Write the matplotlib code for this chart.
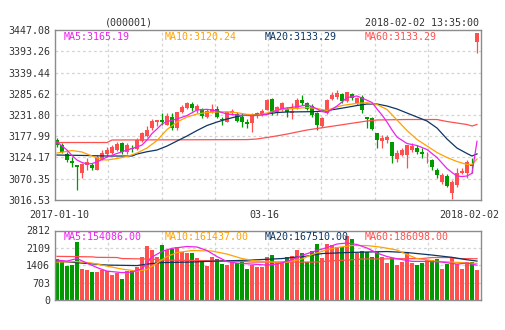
import matplotlib
matplotlib.use("Agg")
import matplotlib.pyplot as plt
import numpy as np

# ---------------- data ----------------
title_code = "(000001)"
timestamp = "2018-02-02 13:35:00"
x_labels = ["2017-01-10", "03-16", "2018-02-02"]
x_label_pos = [0.4, 41.5, 82.5]

price_ticks = [3016.53, 3070.35, 3124.17, 3177.99, 3231.80, 3285.62, 3339.44, 3393.26, 3447.08]
vol_ticks = [0, 703, 1406, 2109, 2812]

opens = [3168, 3156, 3132, 3115, 3105, 3086, 3105, 3105, 3092, 3118,
         3133, 3135, 3143, 3160, 3139, 3149, 3145, 3165, 3178, 3198,
         3214, 3218, 3206, 3228, 3198, 3240, 3249, 3260, 3244, 3246,
         3226, 3240, 3248, 3222, 3215, 3236, 3234, 3227, 3214, 3211,
         3229, 3232, 3244, 3272, 3236, 3246, 3246, 3238, 3249, 3270,
         3263, 3254, 3236, 3204, 3236, 3272, 3278, 3285, 3268, 3285,
         3261, 3278, 3228, 3224, 3185, 3165, 3168, 3164, 3120, 3130,
         3130, 3143, 3148, 3138, 3127, 3117, 3092, 3063, 3078, 3033,
         3054, 3084, 3084, 3107, 3417]
highs = [3173, 3162, 3139, 3126, 3106, 3111, 3122, 3111, 3131, 3143,
         3152, 3155, 3164, 3164, 3160, 3156, 3173, 3188, 3204, 3221,
         3219, 3236, 3236, 3236, 3240, 3257, 3264, 3265, 3259, 3249,
         3247, 3259, 3254, 3226, 3243, 3247, 3240, 3236, 3222, 3236,
         3240, 3247, 3272, 3274, 3254, 3264, 3251, 3263, 3274, 3282,
         3265, 3259, 3240, 3226, 3272, 3290, 3295, 3287, 3291, 3287,
         3278, 3282, 3228, 3226, 3187, 3181, 3181, 3164, 3143, 3148,
         3156, 3160, 3156, 3148, 3139, 3120, 3097, 3084, 3082, 3067,
         3097, 3097, 3118, 3122, 3440]
lows = [3151, 3135, 3114, 3101, 3042, 3071, 3092, 3092, 3092, 3118,
        3126, 3133, 3141, 3134, 3134, 3139, 3143, 3163, 3177, 3195,
        3204, 3206, 3206, 3194, 3195, 3238, 3247, 3243, 3237, 3223,
        3223, 3236, 3224, 3206, 3213, 3232, 3213, 3202, 3200, 3189,
        3225, 3229, 3244, 3232, 3232, 3243, 3227, 3221, 3246, 3257,
        3244, 3227, 3195, 3202, 3234, 3270, 3272, 3261, 3264, 3270,
        3257, 3236, 3198, 3194, 3148, 3148, 3160, 3110, 3114, 3128,
        3097, 3138, 3134, 3122, 3110, 3092, 3073, 3058, 3050, 3018,
        3050, 3082, 3071, 3084, 3388]
closes = [3156, 3139, 3117, 3111, 3101, 3108, 3113, 3098, 3126, 3136,
          3143, 3150, 3158, 3139, 3156, 3145, 3168, 3185, 3195, 3217,
          3219, 3213, 3229, 3198, 3240, 3253, 3261, 3249, 3254, 3229,
          3243, 3246, 3227, 3218, 3240, 3243, 3217, 3215, 3208, 3232,
          3236, 3243, 3270, 3240, 3251, 3261, 3240, 3242, 3270, 3263,
          3246, 3232, 3206, 3224, 3270, 3282, 3287, 3268, 3291, 3274,
          3276, 3244, 3221, 3196, 3168, 3173, 3175, 3128, 3136, 3143,
          3156, 3153, 3139, 3134, 3129, 3099, 3079, 3080, 3052, 3063,
          3084, 3090, 3113, 3102, 3439]
volumes = [1656, 1587, 1384, 1413, 2359, 1250, 1210, 1141, 1141, 1210,
           1169, 1007, 1076, 844, 1169, 1169, 1319, 1750, 2184, 2022,
           1750, 2225, 2022, 2062, 2131, 1953, 1912, 1912, 1685, 1616,
           1372, 1750, 1656, 1453, 1413, 1547, 1482, 1547, 1250, 1400,
           1344, 1344, 1750, 1819, 1547, 1547, 1750, 1778, 2022, 1888,
           1547, 1981, 2265, 1685, 2265, 2225, 2131, 2131, 2602, 2468,
           1888, 1981, 1953, 1750, 1929, 1750, 1506, 1685, 1413, 1547,
           1929, 1506, 1413, 1506, 1616, 1616, 1656, 1250, 1453, 1685,
           1453, 1250, 1547, 1547, 1210]

ma5_idx = [0, 1, 2, 3, 4, 5, 6, 7, 8, 9, 10, 12, 14, 16, 17, 18, 19, 20, 21, 22, 24, 26, 28, 30,
           32, 34, 36, 38, 40, 42, 43, 45, 48, 50, 51, 53, 54, 56, 57, 58, 60, 61, 63, 64, 65,
           66, 67, 68, 70, 72, 74, 76, 77, 78, 79, 80, 81, 82, 83, 84]
ma5_val = [3163.4, 3153.2, 3143.1, 3129.2, 3117.8, 3111.5, 3107.7, 3108.9, 3112.7, 3119.0,
           3125.4, 3134.3, 3143.1, 3150.7, 3155.8, 3168.5, 3184.9, 3196.3, 3209.0, 3215.3,
           3221.6, 3230.5, 3244.4, 3246.2, 3241.9, 3234.3, 3231.8, 3230.5, 3230.5, 3233.1,
           3239.4, 3248.2, 3252.8, 3257.1, 3253.3, 3240.6, 3238.1, 3254.6, 3264.7, 3276.1,
           3279.9, 3274.8, 3263.5, 3247.0, 3231.8, 3214.0, 3193.8, 3176.0, 3159.6, 3154.5,
           3144.4, 3124.1, 3110.2, 3096.2, 3086.1, 3077.3, 3076.0, 3077.3, 3084.1, 3165.19]

ma10_idx = [0, 3, 5, 7, 9, 10, 12, 14, 16, 18, 20, 22, 24, 26, 28, 30, 32, 34, 36, 38, 40, 42,
            44, 46, 48, 50, 52, 54, 55, 57, 60, 62, 64, 66, 68, 70, 72, 74, 76, 78, 80, 82, 83, 84]
ma10_val = [3135.5, 3141.9, 3138.1, 3127.9, 3119.0, 3117.8, 3121.6, 3126.7, 3135.5, 3148.2,
            3167.2, 3195.0, 3214.0, 3226.7, 3234.3, 3238.1, 3239.4, 3240.1, 3237.6, 3233.5,
            3231.8, 3236.8, 3244.4, 3247.0, 3248.7, 3250.8, 3248.2, 3243.2, 3248.2, 3255.8,
            3261.4, 3262.9, 3258.4, 3245.7, 3219.1, 3192.5, 3169.7, 3153.3, 3136.8, 3124.1,
            3114.0, 3106.4, 3106.4, 3120.24]

ma20_idx = [0, 6, 10, 15, 16, 18, 20, 22, 24, 26, 28, 30, 32, 34, 36, 38, 40, 42, 44, 46, 50,
            52, 54, 56, 58, 60, 62, 64, 66, 68, 70, 72, 74, 76, 78, 80, 82, 83, 84]
ma20_val = [3130.4, 3129.2, 3127.9, 3127.9, 3133.0, 3138.8, 3143.1, 3153.2, 3165.9, 3178.6,
            3192.5, 3205.2, 3214.0, 3221.6, 3228.0, 3231.8, 3233.1, 3234.3, 3238.1, 3239.4,
            3240.1, 3240.6, 3243.2, 3247.0, 3251.3, 3255.8, 3259.6, 3259.6, 3254.6, 3247.0,
            3236.8, 3226.7, 3216.6, 3198.8, 3171.0, 3148.0, 3134.3, 3127.9, 3133.29]

ma60_idx = [0, 10, 11, 38, 40, 42, 44, 46, 48, 50, 52, 54, 56, 58, 60, 62, 64, 70, 76, 78, 80,
            82, 83, 84]
ma60_val = [3162.1, 3162.1, 3168.5, 3169.5, 3171.0, 3174.8, 3179.0, 3183.5, 3188.7, 3193.8,
            3197.6, 3201.4, 3205.2, 3209.0, 3212.8, 3216.6, 3219.2, 3220.4, 3220.4, 3215.3,
            3211.5, 3207.7, 3204.0, 3207.7]

vma5_idx = [0, 2, 4, 6, 8, 10, 13, 15, 17, 19, 21, 23, 26, 28, 30, 32, 34, 36, 39, 42, 44, 47,
            49, 51, 54, 56, 58, 60, 62, 64, 66, 68, 71, 74, 77, 80, 82, 84]
vma5_val = [1616, 1575, 1677, 1494, 1311, 1169, 1108, 1129, 1263, 1738, 1969, 2091, 2164, 2144,
            2002, 1758, 1555, 1494, 1453, 1413, 1453, 1628, 1807, 1941, 2123, 2265, 2306, 2245,
            2103, 1900, 1758, 1669, 1563, 1563, 1535, 1453, 1494, 1410]
vma10_idx = [0, 4, 7, 9, 13, 16, 18, 20, 22, 24, 27, 31, 34, 37, 40, 43, 46, 49, 51, 54, 56, 59,
             62, 65, 68, 70, 72, 76, 79, 84]
vma10_val = [1535, 1555, 1494, 1413, 1250, 1169, 1230, 1494, 1758, 1920, 2002, 1981, 1859, 1677,
             1575, 1535, 1535, 1656, 1839, 2034, 2123, 2204, 2204, 2131, 2022, 1839, 1677, 1563,
             1535, 1480]
vma20_idx = [0, 5, 10, 16, 18, 21, 27, 30, 36, 40, 45, 50, 53, 58, 66, 70, 75, 79, 82, 84]
vma20_val = [1575, 1494, 1413, 1393, 1453, 1514, 1535, 1563, 1596, 1628, 1677, 1778, 1880, 1920,
             1961, 1920, 1819, 1726, 1628, 1575]
vma60_idx = [0, 7, 8, 12, 13, 19, 21, 36, 39, 52, 54, 58, 61, 73, 75, 79, 80, 84]
vma60_val = [1766, 1746, 1726, 1718, 1677, 1656, 1616, 1575, 1535, 1535, 1575, 1616, 1656, 1677,
             1718, 1718, 1677, 1669]

legend_price = ["MA5:3165.19", "MA10:3120.24", "MA20:3133.29", "MA60:3133.29"]
legend_vol = ["MA5:154086.00", "MA10:161437.00", "MA20:167510.00", "MA60:186098.00"]

# ---------------- style ----------------
W, H = 505, 330
RED = "#ff4f4f"
GREEN = "#009900"
C_MA5 = "#ee22ee"
C_MA10 = "#ffa200"
C_MA20 = "#0c3563"
C_MA60 = "#ff4f4f"
SPINE = "#8c8c8c"
GRID = "#d4d4d4"
TXT = "#333333"
FONT = "DejaVu Sans Mono"
FS = 7.2

plt.rcParams["font.family"] = [FONT, "DejaVu Sans"]

fig = plt.figure(figsize=(W / 100, H / 100), dpi=100)
fig.patch.set_facecolor("white")

def fx(px):
    return px / W

def fy(py):
    return 1 - py / H

ax = fig.add_axes([fx(55), fy(200), 426 / W, 170 / H])
axv = fig.add_axes([fx(55), fy(300), 426 / W, 69.5 / H])

n = len(closes)
idx = np.arange(n)
XMIN, XMAX = -0.4, 84.8

for a in (ax, axv):
    a.set_xlim(XMIN, XMAX)
    for s in a.spines.values():
        s.set_color(SPINE)
        s.set_linewidth(1.0)
    a.tick_params(axis="both", length=0, labelsize=FS, colors=TXT, pad=3.6)
    # vertical dashed grid: 8 equal divisions
    for i in range(1, 8):
        xv = XMIN + (XMAX - XMIN) * i / 8
        a.axvline(xv, color=GRID, lw=0.9, ls=(0, (2.2, 2.2)), zorder=0)

# price panel
ax.set_ylim(price_ticks[0], price_ticks[-1])
ax.set_yticks(price_ticks)
ax.set_yticklabels([f"{v:.2f}" for v in price_ticks])
for v in price_ticks[1:-1]:
    ax.axhline(v, color=GRID, lw=0.9, ls=(0, (2.2, 2.2)), zorder=0)

ups = [c >= o for o, c in zip(opens, closes)]
cols = [RED if u else GREEN for u in ups]
ax.vlines(idx, lows, highs, colors=cols, lw=0.9, zorder=2)
bottoms = [min(o, c) for o, c in zip(opens, closes)]
heights = [max(abs(c - o), 1.8) for o, c in zip(opens, closes)]
ax.bar(idx, heights, bottom=bottoms, width=0.8, color=cols, linewidth=0, zorder=2)

ax.plot(ma60_idx, ma60_val, color=C_MA60, lw=0.9, zorder=3)
ax.plot(ma20_idx, ma20_val, color=C_MA20, lw=0.9, zorder=3)
ax.plot(ma10_idx, ma10_val, color=C_MA10, lw=0.9, zorder=3)
ax.plot(ma5_idx, ma5_val, color=C_MA5, lw=0.9, zorder=3)

ax.set_xticks(x_label_pos)
ax.set_xticklabels(x_labels)
ax.tick_params(axis="x", pad=7.5)

# volume panel
axv.set_ylim(vol_ticks[0], vol_ticks[-1])
axv.set_yticks(vol_ticks)
axv.set_yticklabels([str(v) for v in vol_ticks])
for v in vol_ticks[1:-1]:
    axv.axhline(v, color=GRID, lw=0.9, ls=(0, (2.2, 2.2)), zorder=0)
axv.set_xticks([])
vcols = [RED if u else GREEN for u in ups]
axv.bar(idx, volumes, width=0.8, color=vcols, linewidth=0, zorder=2)
axv.plot(vma60_idx, vma60_val, color=C_MA60, lw=0.9, zorder=3)
axv.plot(vma20_idx, vma20_val, color=C_MA20, lw=0.9, zorder=3)
axv.plot(vma10_idx, vma10_val, color=C_MA10, lw=0.9, zorder=3)
axv.plot(vma5_idx, vma5_val, color=C_MA5, lw=0.9, zorder=3)

# header texts
fig.text(fx(105), fy(22.5), title_code, fontsize=FS, color=TXT, va="center", ha="left")
fig.text(fx(479), fy(22.5), timestamp, fontsize=FS, color=TXT, va="center", ha="right")

leg_x = [64, 165, 265, 365]
leg_cols = [C_MA5, C_MA10, C_MA20, C_MA60]
for t, xx, c in zip(legend_price, leg_x, leg_cols):
    fig.text(fx(xx), fy(37), t, fontsize=FS, color=c, va="center", ha="left")
for t, xx, c in zip(legend_vol, leg_x, leg_cols):
    fig.text(fx(xx), fy(237), t, fontsize=FS, color=c, va="center", ha="left")

fig.savefig("out.png", dpi=100, facecolor="white")
